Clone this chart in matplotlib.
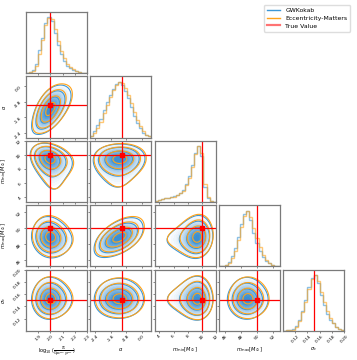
import numpy as np
import matplotlib
matplotlib.use("Agg")
import matplotlib.pyplot as plt
from matplotlib.colors import LinearSegmentedColormap
from matplotlib.lines import Line2D
from math import erf

labels = [r"$\log_{10}(\frac{\mathcal{R}}{\rm Gpc^{-3}\,yr^{-1}})$", r"$\alpha$",
          r"$m_{\rm min}[M_\odot]$", r"$m_{\rm max}[M_\odot]$", r"$\sigma_\epsilon$"]
ranges = [(1.805, 2.30), (-2.65, 0.50), (3.3, 12.0), (45.2, 52.9), (0.10, 0.20)]
truths = [2.0, -1.0, 10.0, 50.0, 0.15]
ticks = [[1.9, 2.0, 2.1, 2.2, 2.3], [-2.4, -1.6, -0.8, 0.0], [4, 6, 8, 10, 12],
         [46, 48, 50, 52], [0.12, 0.14, 0.16, 0.18, 0.20]]
decimals = [1, 1, 0, 0, 2]

# histogram heights (20 bins over each range)
logR_gw = [0.01, 0.02, 0.05, 0.15, 0.37, 0.56, 0.80, 0.88, 0.83, 0.63, 0.45, 0.30, 0.20, 0.12, 0.08, 0.05, 0.03, 0.02, 0.01, 0.005]
logR_em = [0.01, 0.02, 0.04, 0.11, 0.30, 0.52, 0.76, 0.87, 0.86, 0.69, 0.51, 0.35, 0.24, 0.15, 0.10, 0.06, 0.04, 0.02, 0.01, 0.005]
alpha_gw = [0.03, 0.10, 0.20, 0.30, 0.45, 0.58, 0.70, 0.80, 0.88, 0.91, 0.86, 0.76, 0.64, 0.50, 0.36, 0.24, 0.15, 0.08, 0.04, 0.02]
alpha_em = [0.02, 0.07, 0.16, 0.26, 0.40, 0.54, 0.67, 0.78, 0.86, 0.91, 0.89, 0.81, 0.69, 0.56, 0.42, 0.29, 0.19, 0.11, 0.05, 0.02]
mmin_gw = [0.02, 0.04, 0.05, 0.06, 0.07, 0.08, 0.10, 0.12, 0.15, 0.20, 0.30, 0.42, 0.60, 0.80, 0.91, 0.75, 0.25, 0.06, 0.01, 0.0]
mmin_em = [0.02, 0.04, 0.05, 0.06, 0.07, 0.08, 0.09, 0.11, 0.14, 0.18, 0.27, 0.40, 0.57, 0.78, 0.91, 0.80, 0.30, 0.08, 0.01, 0.0]
mmax_gw = [0.0, 0.01, 0.03, 0.08, 0.17, 0.30, 0.48, 0.70, 0.86, 0.91, 0.75, 0.55, 0.38, 0.25, 0.15, 0.09, 0.05, 0.02, 0.01, 0.0]
mmax_em = [0.0, 0.01, 0.02, 0.06, 0.14, 0.26, 0.43, 0.64, 0.82, 0.91, 0.81, 0.63, 0.46, 0.31, 0.19, 0.11, 0.06, 0.03, 0.01, 0.0]
sig_gw = [0.0, 0.01, 0.01, 0.03, 0.08, 0.18, 0.32, 0.50, 0.72, 0.86, 0.91, 0.78, 0.58, 0.42, 0.28, 0.18, 0.12, 0.06, 0.03, 0.01]
sig_em = [0.0, 0.01, 0.01, 0.02, 0.07, 0.16, 0.30, 0.47, 0.69, 0.84, 0.91, 0.81, 0.63, 0.47, 0.32, 0.21, 0.13, 0.07, 0.03, 0.01]

hists_gw = [logR_gw, alpha_gw, mmin_gw, mmax_gw, sig_gw]
hists_em = [logR_em, alpha_em, mmin_em, mmax_em, sig_em]

# correlation of each pair (row, col)
rho = {(1, 0): 0.55, (2, 0): -0.25, (2, 1): 0.05, (3, 0): -0.1, (3, 1): 0.5,
       (3, 2): 0.1, (4, 0): 0.0, (4, 1): 0.0, (4, 2): 0.0, (4, 3): 0.0}

c_gw = "#3d97d6"
c_em = "#ffa31a"
c_true = "red"
levels_sigma = np.arange(0.5, 2.1, 0.5)
masses = 1.0 - np.exp(-0.5 * levels_sigma ** 2)
smooth_bins = 1.8  # 2d smoothing, in histogram bins

zg = np.linspace(-7, 7, 2801)
Phi = 0.5 * (1 + np.array([erf(v / np.sqrt(2)) for v in zg]))


def marginal(counts, lo, hi, n=220):
    c = np.asarray(counts, float)
    edges = np.linspace(lo, hi, len(c) + 1)
    centers = 0.5 * (edges[1:] + edges[:-1])
    x = np.linspace(lo, hi, n)
    f = np.interp(x, centers, c, left=0, right=0)
    s = smooth_bins * n / len(c)
    k = np.exp(-0.5 * (np.arange(-int(4 * s), int(4 * s) + 1) / s) ** 2)
    f = np.convolve(f, k / k.sum(), mode="same")
    f = np.clip(f, 1e-9, None)
    F = (np.cumsum(f) - 0.5 * f) / f.sum()
    z = np.clip(np.interp(F, Phi, zg), -4.0, 4.0)
    return x, f / f.max(), z


def density(cx, cy, rx, ry, r):
    x, fx, zx = marginal(cx, *rx)
    y, fy, zy = marginal(cy, *ry)
    ZX, ZY = np.meshgrid(zx, zy)
    cop = np.exp(-(r ** 2 * (ZX ** 2 + ZY ** 2) - 2 * r * ZX * ZY) / (2 * (1 - r ** 2))) / np.sqrt(1 - r ** 2)
    P = fx[None, :] * fy[:, None] * cop
    return x, y, P


def hpd(P):
    flat = np.sort(P.ravel())[::-1]
    cm = np.cumsum(flat)
    cm /= cm[-1]
    return [flat[min(np.searchsorted(cm, m), len(flat) - 1)] for m in masses[::-1]]


def fmt(vals, d):
    return [f"{v:.{d}f}" for v in vals]


dens_cmap = LinearSegmentedColormap.from_list("dens", ["#ffffff", "#3a8dcf"])

fig, axes = plt.subplots(5, 5, figsize=(3.57, 3.60), dpi=100)
fig.subplots_adjust(left=0.073, right=0.964, bottom=0.081, top=0.967, wspace=0.05, hspace=0.05)

n = 5
for i in range(n):
    for j in range(n):
        ax = axes[i, j]
        if j > i:
            ax.axis("off")
            continue
        for s in ax.spines.values():
            s.set_color("#7a7a7a")
            s.set_linewidth(0.9)
        ax.tick_params(labelsize=3.2, length=1.5, width=0.5, color="#555555", pad=1)
        if i == j:
            lo, hi = ranges[i]
            edges = np.linspace(lo, hi, 21)
            ax.stairs(hists_gw[i], edges, color=c_gw, alpha=0.6, lw=1.0)
            ax.stairs(hists_em[i], edges, color=c_em, alpha=0.6, lw=1.0)
            ax.axvline(truths[i], color=c_true, lw=0.9)
            ax.set_xlim(lo, hi)
            ax.set_ylim(0, 1.1 * max(max(hists_gw[i]), max(hists_em[i])))
            ax.set_yticks([])
        else:
            for counts, col, fill in [(hists_gw, c_gw, True), (hists_em, c_em, False)]:
                x, y, P = density(counts[j], counts[i], ranges[j], ranges[i], rho[(i, j)])
                V = hpd(P)
                if fill:
                    ax.contourf(x, y, P, levels=np.linspace(V[0], P.max(), 30), cmap=dens_cmap)
                ax.contour(x, y, P, levels=V, colors=col, linewidths=0.8)
            ax.axvline(truths[j], color=c_true, lw=0.9)
            ax.axhline(truths[i], color=c_true, lw=0.9)
            ax.plot(truths[j], truths[i], "s", color=c_true, ms=2.2)
            ax.set_xlim(*ranges[j])
            ax.set_ylim(*ranges[i])
            ax.set_yticks(ticks[i])
            if j == 0:
                ax.set_yticklabels(fmt(ticks[i], decimals[i]))
                for lab in ax.get_yticklabels():
                    lab.set_rotation(45)
                ax.set_ylabel(labels[i], fontsize=3.6)
                ax.yaxis.set_label_coords(-0.29, 0.5)
            else:
                ax.set_yticklabels([])
        ax.set_xticks(ticks[j])
        if i == n - 1:
            ax.set_xticklabels(fmt(ticks[j], decimals[j]))
            for lab in ax.get_xticklabels():
                lab.set_rotation(45)
            ax.set_xlabel(labels[j], fontsize=3.6)
            ax.xaxis.set_label_coords(0.5, -0.24)
        else:
            ax.set_xticklabels([])
        ax.set_xlim(*ranges[j])

handles = [Line2D([], [], color=c_gw, lw=1.0), Line2D([], [], color=c_em, lw=1.0),
           Line2D([], [], color=c_true, lw=1.6, alpha=0.55)]
fig.legend(handles, ["GWKokab", "Eccentricity-Matters", "True Value"], loc="upper right",
           bbox_to_anchor=(0.99, 0.995), fontsize=4.4, framealpha=1.0, edgecolor="#dddddd",
           borderpad=0.5, labelspacing=0.4, handlelength=2.2)

fig.savefig("out.png", dpi=100)
